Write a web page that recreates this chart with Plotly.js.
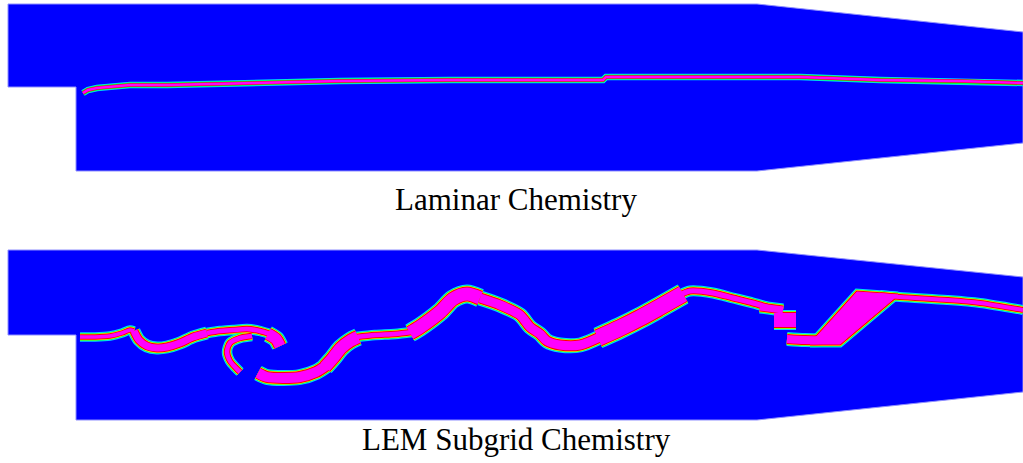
<!DOCTYPE html>
<html><head><meta charset="utf-8">
<script src="https://cdn.plot.ly/plotly-3.0.1.min.js"></script>
<style>html,body{margin:0;padding:0;background:#fff}#chart{width:1023px;height:463px}</style>
</head><body><div id="chart"></div>
<script>
// Domain outlines (pixel units of the picture)
const lamDomainX = [8, 757, 1023, 1023, 757, 76, 76, 8, 8];
const lamDomainY = [4, 4, 32, 143, 171, 171, 87, 87, 4];
const lemDomainX = [8, 757, 1023, 1023, 757, 76, 76, 8, 8];
const lemDomainY = [250, 250, 277, 392, 420, 420, 335, 335, 250];

// Laminar flame front
const lamFlameX = [83, 88, 97, 110, 130, 167, 210, 250, 290, 340, 450, 603, 606, 610, 680, 800, 880, 960, 1023];
const lamFlameY = [93, 90, 88, 87, 85, 85, 84, 83, 82, 81, 80, 80, 77, 77, 77, 77, 80, 81, 83];

// LEM flame front segments (centreline and thickness)
const lemSegX = [
  [80, 95, 110, 122, 130, 134],
  [134, 139, 147, 157, 167, 180, 193, 207],
  [207, 220, 233, 247, 260, 270],
  [268, 276, 280],
  [252, 240, 230, 227, 230, 236, 240],
  [258, 267, 283, 300, 316, 327],
  [325, 333, 341, 350, 358],
  [356, 375, 395, 412],
  [410, 420, 440, 453, 467, 480],
  [480, 500, 520, 530, 540, 547, 560, 580, 600],
  [598, 620, 640, 660, 683],
  [680, 690, 713, 733, 753, 767],
  [760, 783],
  [774, 796],
  [787, 805, 822, 836],
  [880, 900, 947, 980, 1023]
];
const lemSegY = [
  [337, 337, 336, 333, 330, 331],
  [331, 340, 346, 348, 347, 343, 337, 333],
  [333, 331, 330, 329, 331, 334],
  [334, 339, 346],
  [336, 338, 343, 352, 361, 368, 372],
  [373, 377, 378, 377, 372, 365],
  [367, 358, 348, 341, 337],
  [337, 335, 334, 332],
  [333, 327, 312, 299, 294, 298],
  [298, 305, 315, 327, 334, 341, 345, 345, 337],
  [338, 328, 318, 307, 294],
  [295, 291, 293, 298, 303, 307],
  [307, 310],
  [320, 320],
  [339, 340, 340, 339],
  [295, 297, 300, 303, 310]
];
const lemSegW = [3.5, 7, 4.5, 11, 4.5, 10, 12, 4.5, 13, 9, 16, 5, 7, 14, 8, 4];
const lemBlobX = [810, 857, 898, 840, 810];
const lemBlobY = [344, 292, 295, 344, 344];

const captions = ["Laminar Chemistry", "LEM Subgrid Chemistry"];
const captionY = [199, 439];

const traces = [];
function domain(x, y) {
  traces.push({x: x, y: y, type: 'scatter', mode: 'lines', fill: 'toself',
    fillcolor: '#0000ff', line: {color: '#8f8fff', width: 1}, hoverinfo: 'skip'});
}
domain(lamDomainX, lamDomainY);
domain(lemDomainX, lemDomainY);

// laminar flame layers
const lamLayers = [['#00e0ff', 6.5], ['#00ff40', 5], ['#ff0000', 3.6], ['#ff00ff', 2.4]];
lamLayers.forEach(function (l) {
  traces.push({x: lamFlameX, y: lamFlameY, type: 'scatter', mode: 'lines',
    line: {color: l[0], width: l[1]}, hoverinfo: 'skip'});
});

// LEM flame layers
const layers = [['#00d8ff', 6], ['#00ff30', 4], ['#ffff00', 3], ['#ff0000', 2], ['#ff00ff', 0]];
layers.forEach(function (l, li) {
  lemSegX.forEach(function (xs, i) {
    traces.push({x: xs, y: lemSegY[i], type: 'scatter', mode: 'lines',
      line: {color: l[0], width: lemSegW[i] + l[1], shape: 'spline', smoothing: 0.8},
      hoverinfo: 'skip'});
  });
  if (li < layers.length - 1) {
    traces.push({x: lemBlobX, y: lemBlobY, type: 'scatter', mode: 'lines',
      line: {color: l[0], width: l[1] + 1}, hoverinfo: 'skip'});
  } else {
    traces.push({x: lemBlobX, y: lemBlobY, type: 'scatter', mode: 'lines', fill: 'toself',
      fillcolor: '#ff00ff', line: {color: '#ff00ff', width: 1}, hoverinfo: 'skip'});
  }
});

const annotations = captions.map(function (t, i) {
  return {text: t, x: 516, y: captionY[i], xref: 'x', yref: 'y', showarrow: false,
    xanchor: 'center', yanchor: 'middle',
    font: {family: 'Liberation Serif, Times New Roman, serif', size: 31, color: '#000'}};
});

Plotly.newPlot('chart', traces, {
  width: 1023, height: 463, margin: {l: 0, r: 0, t: 0, b: 0},
  paper_bgcolor: '#fff', plot_bgcolor: '#fff', showlegend: false,
  xaxis: {range: [0, 1023], visible: false, fixedrange: true},
  yaxis: {range: [463, 0], visible: false, fixedrange: true},
  annotations: annotations
}, {displayModeBar: false, staticPlot: true});
</script></body></html>
